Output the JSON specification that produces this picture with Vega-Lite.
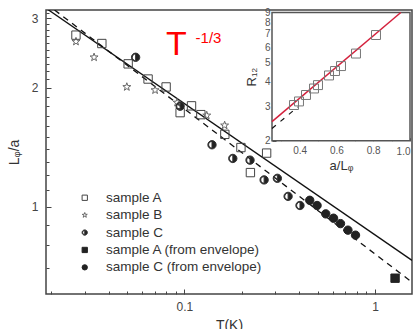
{
  "$schema": "https://vega.github.io/schema/vega-lite/v6.json",
  "width": 366,
  "height": 284,
  "autosize": {"type": "none"},
  "padding": {"left": 46, "top": 10, "right": 2, "bottom": 35},
  "config": {
    "view": {"stroke": "#444", "strokeWidth": 1.5},
    "font": "Liberation Sans",
    "axis": {"domain": false, "grid": false, "labelFont": "Liberation Sans", "titleFont": "Liberation Sans", "labelColor": "#444", "tickColor": "#444", "titleColor": "#333", "titleFontWeight": "normal"},
    "legend": {"padding": 0}
  },
  "layer": [
    {
      "layer": [
        {
          "data": {"values": [{"T": 0.0188, "L": 3.183}, {"T": 1.563, "L": 0.73}]},
          "mark": {"type": "line", "color": "#111", "strokeWidth": 1.3, "clip": true},
          "encoding": {
            "x": {"field": "T", "type": "quantitative", "scale": {"type": "log", "domain": [0.0188, 1.563], "nice": false},
              "axis": {"orient": "bottom", "title": "T(K)", "titleFontSize": 14, "titlePadding": 6, "labelFontSize": 12, "labelPadding": 12,
                "values": [0.02, 0.03, 0.04, 0.05, 0.06, 0.07, 0.08, 0.09, 0.1, 0.2, 0.3, 0.4, 0.5, 0.6, 0.7, 0.8, 0.9, 1],
                "labelExpr": "datum.value == 0.1 ? '0.1' : (datum.value == 1 ? '1' : '')",
                "tickSize": {"condition": {"test": "datum.value == 0.1 || datum.value == 1", "value": -5}, "value": -3}}},
            "y": {"field": "L", "type": "quantitative", "scale": {"type": "log", "domain": [0.6, 3.15], "nice": false},
              "axis": {"orient": "left", "title": "Lᵩ/a", "titleFontSize": 14, "titlePadding": 10, "labelFontSize": 12, "labelPadding": 13,
                "values": [0.7, 0.8, 0.9, 1, 1.1, 1.2, 1.3, 1.4, 1.5, 1.6, 1.7, 1.8, 1.9, 2, 2.1, 2.2, 2.3, 2.4, 2.5, 2.6, 2.7, 2.8, 2.9, 3, 3.1],
                "labelExpr": "datum.value == 1 ? '1' : (datum.value == 2 ? '2' : (datum.value == 3 ? '3' : ''))",
                "tickSize": {"condition": {"test": "datum.value == 1 || datum.value == 2 || datum.value == 3", "value": -5}, "value": -3}}}
          }
        },
        {
          "data": {"values": [{"T": 0.02084, "L": 3.15}, {"T": 1.563, "L": 0.643}]},
          "mark": {"type": "line", "color": "#111", "strokeWidth": 1.3, "strokeDash": [6, 5], "clip": true},
          "encoding": {"x": {"field": "T", "type": "quantitative"}, "y": {"field": "L", "type": "quantitative"}}
        },
        {
          "data": {"values": [
            {"T": 0.027, "L": 2.72, "s": "sample A"}, {"T": 0.0369, "L": 2.59, "s": "sample A"}, {"T": 0.0507, "L": 2.3, "s": "sample A"},
            {"T": 0.0645, "L": 2.105, "s": "sample A"}, {"T": 0.0802, "L": 2.01, "s": "sample A"}, {"T": 0.095, "L": 1.73, "s": "sample A"},
            {"T": 0.109, "L": 1.8, "s": "sample A"}, {"T": 0.122, "L": 1.71, "s": "sample A"}, {"T": 0.163, "L": 1.524, "s": "sample A"},
            {"T": 0.198, "L": 1.411, "s": "sample A"}, {"T": 0.27, "L": 1.366, "s": "sample A"}, {"T": 0.222, "L": 1.219, "s": "sample A"},
            {"T": 0.027, "L": 2.62, "s": "sample B"}, {"T": 0.0336, "L": 2.39, "s": "sample B"}, {"T": 0.0499, "L": 2.01, "s": "sample B"},
            {"T": 0.0702, "L": 1.973, "s": "sample B"}, {"T": 0.0916, "L": 1.835, "s": "sample B"}, {"T": 0.131, "L": 1.702, "s": "sample B"},
            {"T": 0.1626, "L": 1.606, "s": "sample B"},
            {"T": 0.0555, "L": 2.39, "s": "sample C"}, {"T": 0.095, "L": 1.796, "s": "sample C"}, {"T": 0.1396, "L": 1.434, "s": "sample C"},
            {"T": 0.1795, "L": 1.324, "s": "sample C"}, {"T": 0.221, "L": 1.311, "s": "sample C"}, {"T": 0.262, "L": 1.168, "s": "sample C"},
            {"T": 0.3074, "L": 1.179, "s": "sample C"}, {"T": 0.35, "L": 1.061, "s": "sample C"}, {"T": 0.404, "L": 1.006, "s": "sample C"},
            {"T": 1.274, "L": 0.658, "s": "sample A (from envelope)"},
            {"T": 0.4546, "L": 1.037, "s": "sample C (from envelope)"}, {"T": 0.4966, "L": 1.006, "s": "sample C (from envelope)"},
            {"T": 0.5515, "L": 0.958, "s": "sample C (from envelope)"}, {"T": 0.606, "L": 0.934, "s": "sample C (from envelope)"},
            {"T": 0.659, "L": 0.905, "s": "sample C (from envelope)"}, {"T": 0.721, "L": 0.871, "s": "sample C (from envelope)"},
            {"T": 0.79, "L": 0.846, "s": "sample C (from envelope)"}
          ]},
          "mark": {"type": "point", "filled": true, "size": 70, "strokeWidth": 1, "opacity": 1},
          "encoding": {
            "x": {"field": "T", "type": "quantitative"},
            "y": {"field": "L", "type": "quantitative"},
            "shape": {"field": "s", "type": "nominal",
              "scale": {"domain": ["sample A", "sample B", "sample C", "sample A (from envelope)", "sample C (from envelope)"],
                "range": ["square", "M0,-1L0.235,-0.324L0.951,-0.309L0.38,0.124L0.588,0.809L0,0.4L-0.588,0.809L-0.38,0.124L-0.951,-0.309L-0.235,-0.324Z", "M0,-1A1,1,0,0,1,0,1A1,1,0,0,1,0,-1ZM0,-0.8A0.8,0.8,0,0,0,0,0.8Z", "square", "circle"]},
              "legend": {"title": null, "orient": "none", "legendX": 32, "legendY": 181, "symbolSize": 28, "symbolStrokeWidth": 1, "labelFontSize": 13.5, "labelColor": "#333", "labelFont": "Liberation Sans", "labelOffset": 14.5, "rowPadding": 2.4}},
            "fill": {"field": "s", "type": "nominal",
              "scale": {"domain": ["sample A", "sample B", "sample C", "sample A (from envelope)", "sample C (from envelope)"],
                "range": ["transparent", "transparent", "#222", "#222", "#222"]},
              "legend": {"title": null, "orient": "none", "legendX": 32, "legendY": 181, "symbolSize": 28, "symbolStrokeWidth": 1, "labelFontSize": 13.5, "labelColor": "#333", "labelFont": "Liberation Sans", "labelOffset": 14.5, "rowPadding": 2.4}},
            "stroke": {"field": "s", "type": "nominal",
              "scale": {"domain": ["sample A", "sample B", "sample C", "sample A (from envelope)", "sample C (from envelope)"],
                "range": ["#444", "#666", "#333", "#222", "#222"]},
              "legend": {"title": null, "orient": "none", "legendX": 32, "legendY": 181, "symbolSize": 28, "symbolStrokeWidth": 1, "labelFontSize": 13.5, "labelColor": "#333", "labelFont": "Liberation Sans", "labelOffset": 14.5, "rowPadding": 2.4}}
          }
        },
        {
          "data": {"values": [{"label": "T"}]},
          "mark": {"type": "text", "fontSize": 34, "color": "#ff0000", "align": "left", "baseline": "alphabetic", "font": "Liberation Sans"},
          "encoding": {"x": {"datum": 0.0801, "type": "quantitative"}, "y": {"datum": 2.425, "type": "quantitative"}, "text": {"field": "label"}}
        },
        {
          "data": {"values": [{"label": "-1/3"}]},
          "mark": {"type": "text", "fontSize": 15, "color": "#ff0000", "align": "left", "baseline": "alphabetic", "font": "Liberation Sans"},
          "encoding": {"x": {"datum": 0.1145, "type": "quantitative"}, "y": {"datum": 2.592, "type": "quantitative"}, "text": {"field": "label"}}
        }
      ]
    },
    {
      "layer": [
        {
          "data": {"values": [{"k": 1}]},
          "mark": {"type": "rect", "fill": "white", "stroke": "#555", "strokeWidth": 1.5},
          "encoding": {
            "x": {"datum": 0.25, "type": "quantitative", "axis": null},
            "x2": {"datum": 1},
            "y": {"datum": 2, "type": "quantitative", "axis": null},
            "y2": {"datum": 9}
          }
        },
        {
          "data": {"values": [{"a": 0.25, "R": 2.31}, {"a": 0.39, "R": 2.97}]},
          "mark": {"type": "line", "color": "#111", "strokeWidth": 1.2, "strokeDash": [5, 6], "clip": true},
          "encoding": {"x": {"field": "a", "type": "quantitative", "axis": null}, "y": {"field": "R", "type": "quantitative", "axis": null}}
        },
        {
          "data": {"values": [{"a": 0.25, "R": 2.5}, {"a": 0.95, "R": 9.0}]},
          "mark": {"type": "line", "color": "#d4213d", "strokeWidth": 1.5, "clip": true},
          "encoding": {
            "x": {"field": "a", "type": "quantitative",
              "axis": {"orient": "top", "offset": -2.5, "values": [0.3, 0.4, 0.5, 0.6, 0.7, 0.8, 0.9], "labels": false, "title": null, "tickSize": -3, "tickColor": "#555"}},
            "y": {"field": "R", "type": "quantitative", "axis": null}
          }
        },
        {
          "data": {"values": [
            {"a": 0.3696, "R": 3.04}, {"a": 0.3967, "R": 3.17}, {"a": 0.4348, "R": 3.42}, {"a": 0.4783, "R": 3.69}, {"a": 0.5, "R": 3.84},
            {"a": 0.5598, "R": 4.3}, {"a": 0.5924, "R": 4.53}, {"a": 0.625, "R": 4.8}, {"a": 0.7065, "R": 5.56}, {"a": 0.8152, "R": 6.91}
          ]},
          "mark": {"type": "point", "shape": "square", "size": 80, "filled": false, "stroke": "#777", "strokeWidth": 1, "opacity": 1},
          "encoding": {
            "x": {"field": "a", "type": "quantitative", "scale": {"domain": [0.25, 1], "range": [226, 364], "nice": false, "zero": false},
              "axis": {"orient": "bottom", "offset": -153.3, "values": [0.3, 0.4, 0.5, 0.6, 0.7, 0.8, 0.9, 1.0],
                "labelExpr": "datum.value == 0.4 ? '0.4' : (datum.value == 0.6 ? '0.6' : (datum.value == 0.8 ? '0.8' : (datum.value == 1 ? '1.0' : '')))",
                "labelFontSize": 10, "labelColor": "#555", "labelPadding": 9, "tickColor": "#555",
                "tickSize": {"condition": {"test": "datum.value == 0.4 || datum.value == 0.6 || datum.value == 0.8", "value": -4}, "value": -3},
                "title": "a/Lᵩ", "titleFontSize": 13, "titlePadding": 3}},
            "y": {"field": "R", "type": "quantitative", "scale": {"type": "log", "domain": [2, 9], "range": [130.7, 2.5], "nice": false},
              "axis": {"orient": "left", "offset": -226, "values": [2, 3, 4, 5, 6, 7, 8, 9], "labelFontSize": 10, "labelColor": "#555", "labelPadding": 6, "tickColor": "#555", "tickSize": -4,
                "title": "R₁₂", "titleFontSize": 13, "titlePadding": 6}}
          }
        }
      ],
      "resolve": {"axis": {"x": "independent", "y": "independent"}}
    }
  ],
  "resolve": {"scale": {"x": "independent", "y": "independent"}}
}
